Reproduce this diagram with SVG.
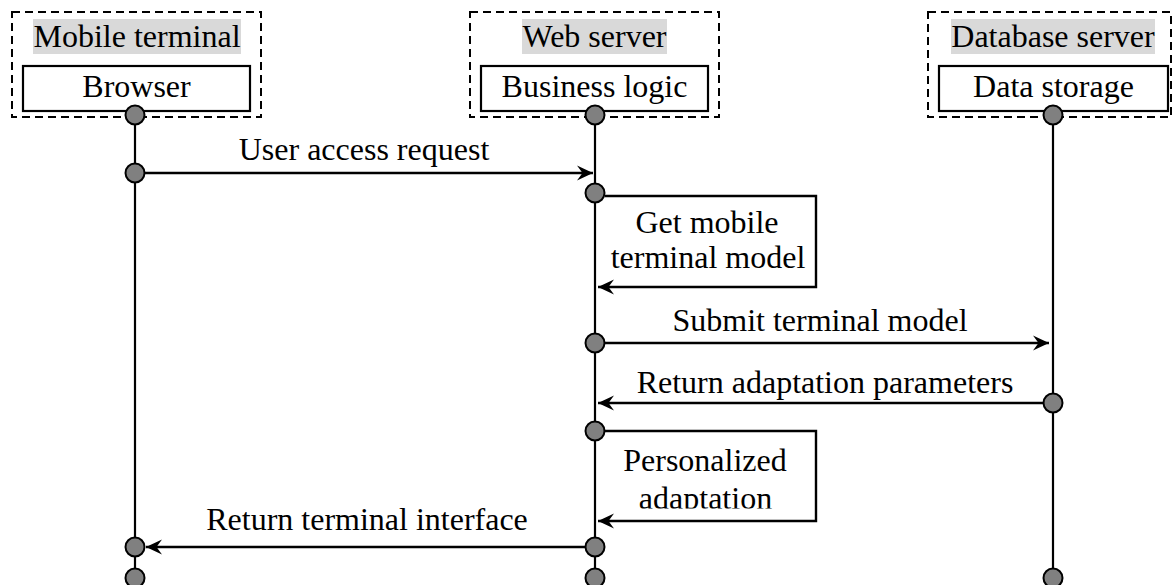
<svg xmlns="http://www.w3.org/2000/svg" width="1172" height="585" viewBox="0 0 1172 585">
<style>
text{font-family:"Liberation Serif","Times New Roman",serif;font-size:32px;fill:#000;text-anchor:middle}
.dash{fill:none;stroke:#000;stroke-width:2;stroke-dasharray:8 5}
.hl{fill:#d9d9d9}
.box{fill:#fff;stroke:#000;stroke-width:2.2}
.life{stroke:#000;stroke-width:2.2;fill:none}
.msg{stroke:#000;stroke-width:2.4;fill:none;marker-end:url(#ah)}
.dot{fill:#808080;stroke:#000;stroke-width:2}
</style>
<defs>
<marker id="ah" markerUnits="userSpaceOnUse" markerWidth="20" markerHeight="18" viewBox="-17 -9 19 18" refX="0" refY="0" orient="auto">
<path d="M0,0 L-16,-7.5 L-10.5,0 L-16,7.5 Z" fill="#000"/>
</marker>
<clipPath id="clipAd"><rect x="600" y="440" width="214" height="68.5"/></clipPath>
</defs>
<rect width="1172" height="585" fill="#fff"/>
<g id="lifelines">
<line class="life" x1="135" y1="115" x2="135" y2="578"/>
<line class="life" x1="595" y1="115" x2="595" y2="578"/>
<line class="life" x1="1053" y1="115" x2="1053" y2="578"/>
</g>
<g id="mobile-terminal">
<rect class="dash" x="12" y="12" width="249" height="105"/>
<rect class="hl" x="33" y="19" width="208" height="35"/>
<text x="137" y="47">Mobile terminal</text>
<rect class="box" x="23" y="66" width="227" height="45"/>
<text x="136.5" y="97">Browser</text>
</g>
<g id="web-server">
<rect class="dash" x="470" y="12" width="249" height="105"/>
<rect class="hl" x="522" y="19" width="145" height="35"/>
<text x="594.5" y="47">Web server</text>
<rect class="box" x="481" y="66" width="227" height="45"/>
<text x="594.5" y="97">Business logic</text>
</g>
<g id="database-server">
<rect class="dash" x="928" y="12" width="243" height="105"/>
<rect class="hl" x="951" y="19" width="204" height="35"/>
<text x="1053" y="47">Database server</text>
<rect class="box" x="939" y="66" width="229" height="45"/>
<text x="1053.5" y="97">Data storage</text>
</g>
<g id="connectors">
<line class="msg" x1="145" y1="173" x2="593" y2="173"/>
<path class="msg" d="M605,196 H816 V287 H598"/>
<line class="msg" x1="605" y1="343" x2="1049" y2="343"/>
<line class="msg" x1="1043" y1="403" x2="598" y2="403"/>
<path class="msg" d="M605,431 H816 V521 H598"/>
<line class="msg" x1="585" y1="547" x2="146" y2="547"/>
</g>
<g id="labels">
<text x="364" y="160">User access request</text>
<text x="707" y="233">Get mobile</text>
<text x="708" y="268">terminal model</text>
<text x="820" y="331">Submit terminal model</text>
<text x="825" y="393">Return adaptation parameters</text>
<text x="705" y="471">Personalized</text>
<text x="705.5" y="509" clip-path="url(#clipAd)">adaptation</text>
<text x="367" y="530">Return terminal interface</text>
</g>
<g id="dots">
<circle class="dot" cx="135" cy="115" r="9.5"/>
<circle class="dot" cx="595" cy="115" r="9.5"/>
<circle class="dot" cx="1053" cy="115" r="9.5"/>
<circle class="dot" cx="135" cy="173" r="9.5"/>
<circle class="dot" cx="595" cy="193" r="9.5"/>
<circle class="dot" cx="595" cy="343" r="9.5"/>
<circle class="dot" cx="1053" cy="403" r="9.5"/>
<circle class="dot" cx="595" cy="431" r="9.5"/>
<circle class="dot" cx="595" cy="547" r="9.5"/>
<circle class="dot" cx="135" cy="547" r="9.5"/>
<circle class="dot" cx="135" cy="578" r="9.5"/>
<circle class="dot" cx="595" cy="578" r="9.5"/>
<circle class="dot" cx="1053" cy="578" r="9.5"/>
</g>
</svg>
